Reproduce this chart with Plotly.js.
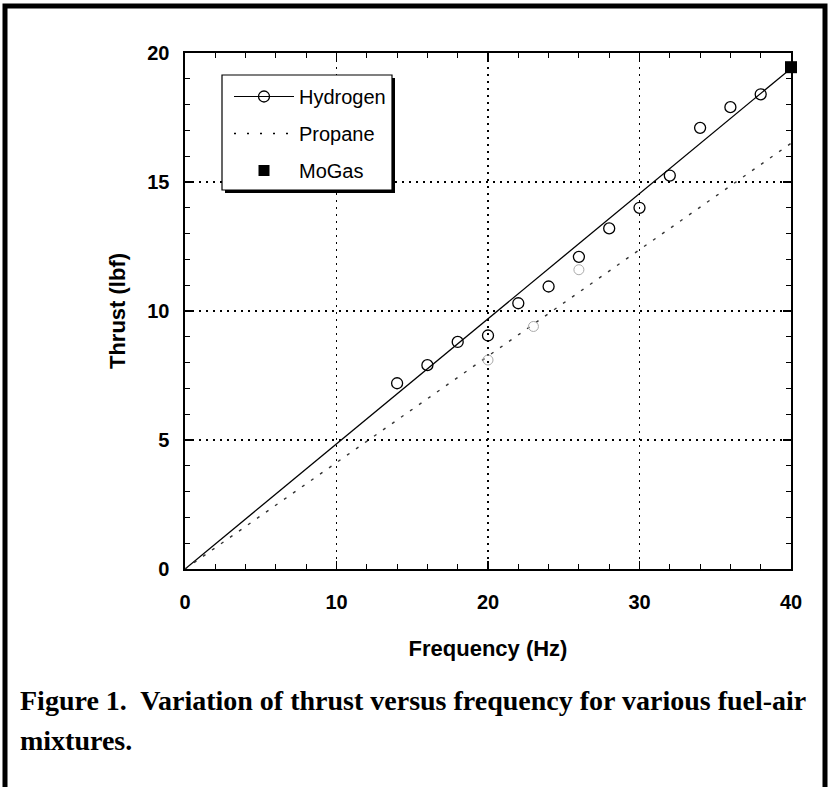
<!DOCTYPE html>
<html>
<head>
<meta charset="utf-8">
<script src="https://cdn.plot.ly/plotly-3.0.1.min.js"></script>
<style>
  html, body { margin: 0; padding: 0; background: #fff; }
  #chart { width: 830px; height: 787px; }
</style>
</head>
<body>
<div id="chart"></div>
<script>
// ---- data ----
const hydrogenFreq   = [14, 16, 18, 20, 22, 24, 26, 28, 30, 32, 34, 36, 38];
const hydrogenThrust = [7.2, 7.9, 8.8, 9.05, 10.3, 10.95, 12.1, 13.2, 14.0, 15.25, 17.1, 17.9, 18.4];
const hydrogenFitFreq   = [0, 40];
const hydrogenFitThrust = [0, 19.4];
const propaneFreq   = [20, 23, 26];
const propaneThrust = [8.1, 9.4, 11.6];
const propaneFitFreq   = [0, 40];
const propaneFitThrust = [0, 16.5];
const mogasFreq   = [40];
const mogasThrust = [19.45];
const xTicks = [0, 10, 20, 30, 40];
const yTicks = [0, 5, 10, 15, 20];

// plot area in pixels (for paper-coordinate decorations)
const PX0 = 185, PX1 = 791, PY0 = 53, PY1 = 569;
const px = v => (v - PX0) / (PX1 - PX0);
const py = v => (PY1 - v) / (PY1 - PY0);

const axisFont = {family: 'Liberation Sans, Arial, sans-serif', size: 20, color: '#000', weight: 'bold'};

const traces = [
  // Hydrogen linear fit
  {x: hydrogenFitFreq, y: hydrogenFitThrust, mode: 'lines', showlegend: false,
   line: {color: '#000', width: 1.3}, hoverinfo: 'skip'},
  // Propane fit (dotted)
  {x: propaneFitFreq, y: propaneFitThrust, mode: 'lines', showlegend: false,
   line: {color: '#333', width: 1.4, dash: '3px,8px'}, hoverinfo: 'skip'},
  // Propane faint data marks
  {x: propaneFreq, y: propaneThrust, mode: 'markers', showlegend: false,
   marker: {symbol: 'circle-open', size: 10, color: '#aaa', line: {width: 1, color: '#aaa'}}},
  // Hydrogen data
  {x: hydrogenFreq, y: hydrogenThrust, mode: 'markers', showlegend: false,
   marker: {symbol: 'circle-open', size: 11, color: '#000', line: {width: 1.3, color: '#000'}}},
  // MoGas
  {x: mogasFreq, y: mogasThrust, mode: 'markers', name: 'MoGas', showlegend: false, cliponaxis: false,
   marker: {symbol: 'square', size: 12, color: '#000'}},
  // legend entries
  {x: [null], y: [null], mode: 'lines+markers', name: 'Hydrogen', legendgroup: 'a',
   line: {color: '#000', width: 1.2},
   marker: {symbol: 'circle-open', size: 11, color: '#000', line: {width: 1.3}}},
  {x: [null], y: [null], mode: 'lines', name: 'Propane', legendgroup: 'b',
   line: {color: '#000', width: 1.6, dash: '2px,11px'}},
  {x: [null], y: [null], mode: 'markers', name: 'MoGas', legendgroup: 'c',
   marker: {symbol: 'square', size: 11, color: '#000'}}
];

const layout = {
  width: 830, height: 787,
  margin: {l: PX0, r: 830 - PX1, t: PY0, b: 787 - PY1},
  paper_bgcolor: '#fff', plot_bgcolor: '#fff',
  font: {family: 'Liberation Sans, Arial, sans-serif', color: '#000'},
  showlegend: true,
  legend: {
    x: px(229), y: py(77), xanchor: 'left', yanchor: 'top',
    bgcolor: 'rgba(0,0,0,0)', borderwidth: 0,
    font: {family: 'Liberation Sans, Arial, sans-serif', size: 20, color: '#000'},
    itemwidth: 60, traceorder: 'grouped', tracegroupgap: 8
  },
  xaxis: {
    range: [0, 40], tickvals: xTicks, ticktext: xTicks.map(String),
    ticks: 'inside', ticklen: 8, tickwidth: 1.5, tickcolor: '#000',
    minor: {dtick: 2, ticks: 'inside', ticklen: 5, tickwidth: 1, tickcolor: '#000'},
    showline: true, linewidth: 1.6, linecolor: '#000', mirror: 'ticks',
    showgrid: true, gridcolor: '#000', gridwidth: 1.2, griddash: '2px,5px',
    zeroline: false, tickfont: axisFont, ticklabelstandoff: 14,
    title: {text: 'Frequency (Hz)', font: {family: 'Liberation Sans, Arial, sans-serif', size: 22, weight: 'bold', color: '#000'}, standoff: 29}
  },
  yaxis: {
    range: [0, 20], tickvals: yTicks, ticktext: yTicks.map(String),
    ticks: 'inside', ticklen: 8, tickwidth: 1.5, tickcolor: '#000',
    minor: {dtick: 1, ticks: 'inside', ticklen: 5, tickwidth: 1, tickcolor: '#000'},
    showline: true, linewidth: 1.6, linecolor: '#000', mirror: 'ticks',
    showgrid: true, gridcolor: '#000', gridwidth: 1.2, griddash: '2px,5px',
    zeroline: false, tickfont: axisFont, ticklabelstandoff: 10,
    title: {text: 'Thrust (lbf)', font: {family: 'Liberation Sans, Arial, sans-serif', size: 22, weight: 'bold', color: '#000'}, standoff: 15}
  },
  shapes: [
    // outer figure frame
    {type: 'rect', xref: 'paper', yref: 'paper', x0: px(5), x1: px(825), y0: py(800), y1: py(6),
     line: {color: '#000', width: 5}, fillcolor: 'rgba(0,0,0,0)', layer: 'above'},
    // legend drop shadow
    {type: 'rect', xref: 'paper', yref: 'paper', x0: px(225), x1: px(395), y0: py(193), y1: py(78),
     line: {width: 0}, fillcolor: '#000', layer: 'above'},
    // legend box
    {type: 'rect', xref: 'paper', yref: 'paper', x0: px(222), x1: px(392), y0: py(190), y1: py(75),
     line: {color: '#000', width: 1.2}, fillcolor: '#fff', layer: 'above'}
  ],
  annotations: [
    {xref: 'paper', yref: 'paper', x: px(18), y: py(700), xanchor: 'left', yanchor: 'middle',
     showarrow: false, align: 'left',
     text: 'Figure 1.  Variation of thrust versus frequency for various fuel-air',
     font: {family: 'Liberation Serif, Times New Roman, serif', size: 28, weight: 'bold', color: '#000'}},
    {xref: 'paper', yref: 'paper', x: px(18), y: py(740), xanchor: 'left', yanchor: 'middle',
     showarrow: false, align: 'left',
     text: 'mixtures.',
     font: {family: 'Liberation Serif, Times New Roman, serif', size: 28, weight: 'bold', color: '#000'}}
  ]
};

Plotly.newPlot('chart', traces, layout, {displayModeBar: false, staticPlot: true});
</script>
</body>
</html>
